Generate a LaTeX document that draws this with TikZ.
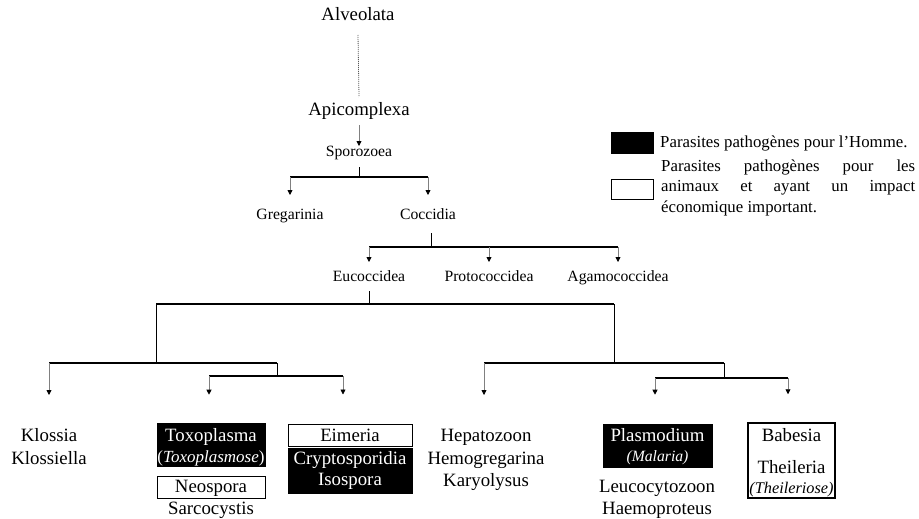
\documentclass[tikz,border=0pt]{standalone}
\usepackage{fontspec}
\setmainfont{Liberation Serif}
\usetikzlibrary{arrows.meta}
\begin{document}
\begin{tikzpicture}[x=1pt,y=-1pt,
 big/.style={font=\fontsize{18.8}{22}\selectfont,inner sep=0pt,anchor=base},
 mid/.style={font=\fontsize{15.7}{19}\selectfont,inner sep=0pt,anchor=base},
 leg/.style={font=\fontsize{16.8}{20}\selectfont,inner sep=0pt,anchor=base west},
 inv/.style={text=white},
 blk/.style={fill=black,draw=black,line width=0.6pt,inner sep=0pt},
 wht/.style={fill=white,draw=black,line width=1pt,inner sep=0pt},
 stem/.style={draw=black!50,line width=0.8pt,-{Triangle[length=5pt,width=5pt,color=black]}},
 vln/.style={draw=black,line width=0.9pt},
 bar/.style={draw=black,line width=1.1pt},
 barb/.style={draw=black,line width=1.7pt},
 dotln/.style={draw=black!65,line width=0.8pt,dash pattern=on 1pt off 1pt},
]
\useasboundingbox (0,0) rectangle (919,519);

% boxes
\node[blk,minimum width=108pt,minimum height=43pt] (toxbox) at (211,444.5) {};
\node[wht,minimum width=108pt,minimum height=22pt] (neobox) at (211,487) {};
\node[wht,minimum width=124pt,minimum height=22pt] (eimbox) at (350,435) {};
\node[blk,minimum width=124pt,minimum height=45pt] (crybox) at (350,470.5) {};
\node[blk,minimum width=109pt,minimum height=43pt] (plabox) at (657.5,445.5) {};
\node[wht,line width=1.5pt,minimum width=87pt,minimum height=75pt] (babbox) at (791.5,460.5) {};
\node[blk,minimum width=42pt,minimum height=21pt] (legblk) at (632,142.5) {};
\node[wht,line width=0.9pt,minimum width=42pt,minimum height=20pt] (legwht) at (632,189.3) {};

% top levels
\node[big] (alv) at (358,21) {Alveolata};
\node[big] (api) at (359,115) {Apicomplexa};
\node[mid] (spo) at (359,156) {Sporozoea};
\node[mid] (gre) at (290,219) {Gregarinia};
\node[mid] (coc) at (428,219) {Coccidia};
\node[mid] (euc) at (369,281) {Eucoccidea};
\node[mid] (pro) at (489,281) {Protococcidea};
\node[mid] (aga) at (618,281) {Agamococcidea};

% leaves
\node[big] (klo1) at (49,441) {Klossia};
\node[big] (klo2) at (49,464) {Klossiella};
\node[big,inv] (tox1) at (211,441) {Toxoplasma};
\node[inner sep=0pt,anchor=base,font=\fontsize{17}{20}\selectfont,inv] (tox2) at (211,462) {(\textit{Toxoplasmose})};
\node[big] (neo) at (211,492) {Neospora};
\node[big] (sar) at (211,514) {Sarcocystis};
\node[big] (eim) at (350,441) {Eimeria};
\node[big,inv] (cry) at (350,464) {Cryptosporidia};
\node[big,inv] (iso) at (350,485) {Isospora};
\node[big] (hep) at (486,441) {Hepatozoon};
\node[big] (hem) at (486,464) {Hemogregarina};
\node[big] (kar) at (486,486) {Karyolysus};
\node[big,inv] (pla) at (657.5,441) {Plasmodium};
\node[mid,inv] (mal) at (657.5,461) {\textit{(Malaria)}};
\node[big] (leu) at (657,492) {Leucocytozoon};
\node[big] (hae) at (657,514) {Haemoproteus};
\node[big] (bab) at (791.5,441) {Babesia};
\node[big] (the) at (791.5,473) {Theileria};
\node[inner sep=0pt,anchor=base,font=\fontsize{16.3}{19}\selectfont] (thr) at (791.5,493) {\textit{(Theileriose)}};

% legend
\node[leg] (leg1) at (660,147) {Parasites pathogènes pour l'Homme.};
\node[leg] (leg2) at (661,171) {\makebox[254pt][s]{Parasites pathogènes pour les}};
\node[leg] (leg3) at (661,191.5) {\makebox[254pt][s]{animaux et ayant un impact}};
\node[leg] (leg4) at (661,212) {économique important.};

% connectors
\draw[dotln] ([yshift=-14pt]alv.base) -- ([yshift=18pt]api.base);
\draw[stem] ([yshift=-10pt]api.base) -- ([yshift=10pt]spo.base);

\coordinate (j1) at ([yshift=-21pt]spo.base);
\draw[vln] ([yshift=-11pt]spo.base) -- (j1);
\draw[bar] (gre.base |- j1) -- (coc.base |- j1);
\draw[stem] (gre.base |- j1) -- ([yshift=24pt]gre.base);
\draw[stem] (coc.base |- j1) -- ([yshift=24pt]coc.base);

\coordinate (cb) at ([xshift=3pt]coc.base);
\coordinate (j2) at ([yshift=-28pt]cb);
\draw[vln] ([yshift=-14pt]cb) -- (j2);
\draw[bar] (euc.base |- j2) -- (aga.base |- j2);
\draw[stem] (euc.base |- j2) -- ([yshift=19pt]euc.base);
\draw[stem] (pro.base |- j2) -- ([yshift=19pt]pro.base);
\draw[stem] (aga.base |- j2) -- ([yshift=19pt]aga.base);

\coordinate (j3) at ([yshift=-23pt]euc.base);
\draw[vln] ([yshift=-10pt]euc.base) -- (j3);
\coordinate (L1) at (156,363);
\coordinate (R1) at (614,363);
\draw[bar] (L1 |- j3) -- (R1 |- j3);
\draw[vln] (L1 |- j3) -- (L1);
\draw[vln] (R1 |- j3) -- (R1);

% left branch
\coordinate (L2) at (277,376);
\draw[barb] (klo1.base |- L1) -- (L2 |- L1);
\draw[stem] (klo1.base |- L1) -- ([yshift=46pt]klo1.base);
\draw[vln] (L2 |- L1) -- (L2);
\coordinate (ta) at ([xshift=-2pt]toxbox.north);
\coordinate (ea) at ([xshift=-7pt]eimbox.north);
\draw[bar] (ta |- L2) -- (ea |- L2);
\draw[stem] (ta |- L2) -- ([yshift=28pt]ta);
\draw[stem] (ea |- L2) -- ([yshift=29pt]ea);

% right branch
\coordinate (R2) at (724,378);
\coordinate (ha) at ([xshift=-2pt]hep.base);
\draw[barb] (ha |- R1) -- (R2 |- R1);
\draw[stem] (ha |- R1) -- ([yshift=46pt]ha);
\draw[vln] (R2 |- R1) -- (R2);
\coordinate (pa) at ([xshift=-2.5pt]plabox.north);
\coordinate (ba) at ([xshift=-3.5pt]babbox.north);
\draw[bar] (pa |- R2) -- (ba |- R2);
\draw[stem] (pa |- R2) -- ([yshift=29pt]pa);
\draw[stem] (ba |- R2) -- ([yshift=28pt]ba);
\end{tikzpicture}
\end{document}
